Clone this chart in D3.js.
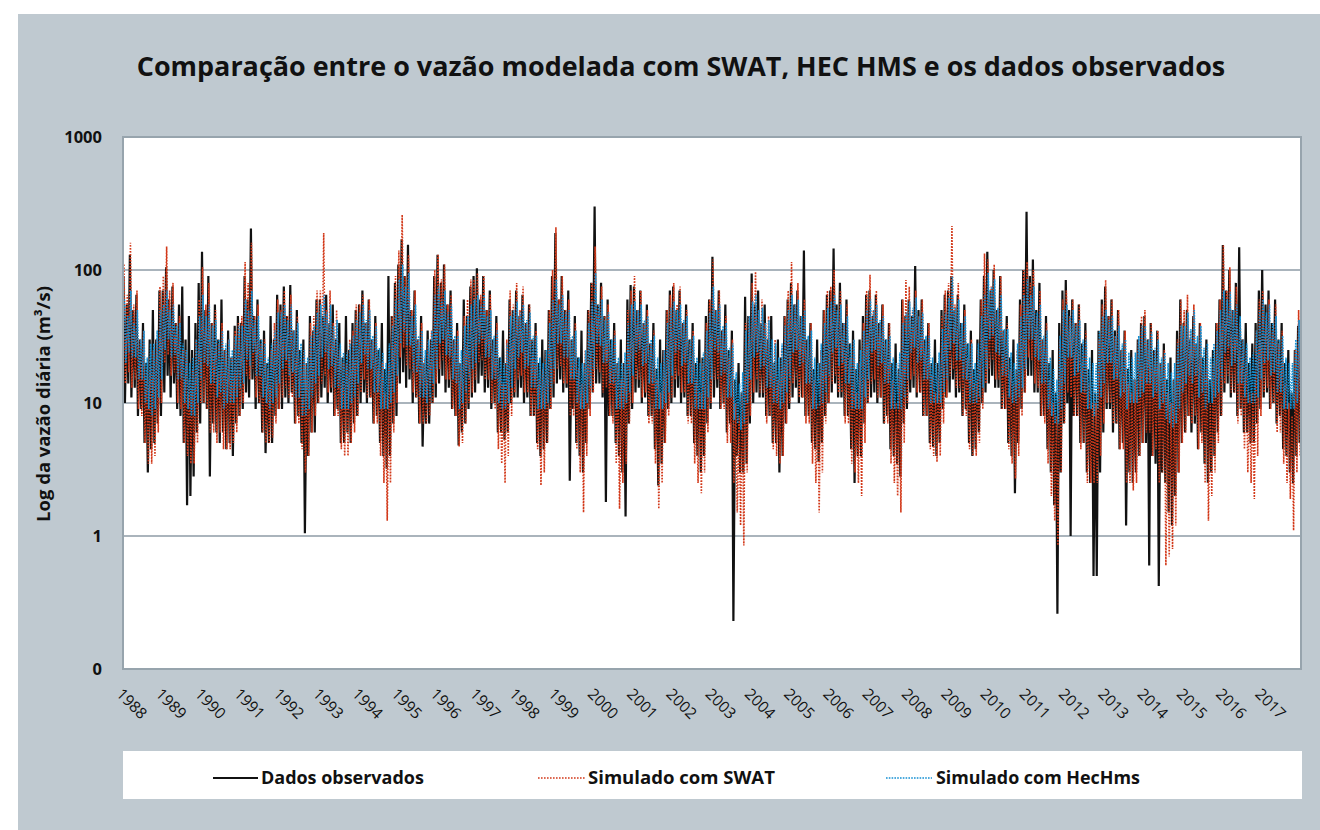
<!DOCTYPE html>
<html>
<head>
<meta charset="utf-8">
<script src="https://cdn.jsdelivr.net/npm/d3@7"></script>
<style>
  html, body { margin: 0; padding: 0; background: #fff; }
  svg { display: block; font-family: "Open Sans", "Noto Sans", sans-serif; }
</style>
</head>
<body>
<div id="chart"></div>
<script>
// DATA
const title = "Comparação entre o vazão modelada com SWAT, HEC HMS e os dados observados";
const yTitle = "Log da vazão diária (m³/s)";
const yearLabels = ["1988","1989","1990","1991","1992","1993","1994","1995","1996","1997",
  "1998","1999","2000","2001","2002","2003","2004","2005","2006","2007",
  "2008","2009","2010","2011","2012","2013","2014","2015","2016","2017"];
const yTicks = [0.1, 1, 10, 100, 1000];
const seriesNames = ["Dados observados", "Simulado com SWAT", "Simulado com HecHms"];

// monthly highs and lows of the daily flow (m3/s), one row per year, Jan..Dec
const obsHigh = [
  90,55,130,50,65,30,40,20,30,50,30,70,
  70,105,60,75,40,55,75,30,45,25,40,80,
  137,50,90,40,55,30,60,25,35,22,38,45,
  40,90,60,205,45,60,30,35,20,45,30,65,
  55,75,45,77,35,50,25,30,20,45,35,60,
  60,45,65,40,55,30,40,22,45,25,40,50,
  55,70,40,60,30,45,25,40,18,90,45,80,
  110,170,90,155,50,70,30,45,20,35,30,90,
  130,80,110,55,70,30,40,20,60,45,75,90,
  103,60,90,50,70,30,45,22,35,20,60,50,
  70,45,65,40,55,30,40,20,30,25,50,90,
  190,60,90,50,70,30,45,22,35,20,50,80,
  300,55,80,45,60,30,40,20,30,20,60,77,
  75,50,70,40,55,28,40,18,30,25,50,70,
  75,50,70,40,55,30,40,20,30,22,45,60,
  126,50,70,35,55,25,35,15,20,12,63,45,
  94,55,70,40,55,30,45,20,30,22,45,60,
  80,55,70,45,140,30,40,18,30,20,50,65,
  70,145,55,80,40,60,28,35,18,30,45,65,
  70,45,65,40,55,30,40,20,28,18,60,45,
  60,45,107,50,60,30,40,20,30,20,50,65,
  70,90,50,65,40,55,28,35,18,30,60,90,
  137,70,100,50,90,35,45,22,30,18,60,100,
  274,90,120,50,80,30,45,20,25,12,40,70,
  84,50,60,40,55,28,40,18,25,12,35,60,
  75,45,60,35,50,25,35,18,25,15,30,40,
  45,30,40,25,35,20,28,15,22,15,35,60,
  40,50,30,45,28,40,22,30,15,25,40,60,
  154,70,100,50,80,148,30,40,20,28,40,70,
  100,55,70,40,60,30,40,20,25,12,25,38
];
const obsLow = [
  10,14,11,13,8,9,5,3,4.5,5,7,8,
  12,16,11,14,9,8,5,1.7,2,2.8,6,7,
  10,9,2.8,7,6,5,6,4.5,5,4,7,8,
  9,12,11,15,9,10,6,4.2,5,5,8,9,
  9,11,10,12,7,8,5,1.05,4,6,6,10,
  11,13,10,12,8,9,5,5,6,5,7,8,
  10,12,10,11,7,8,5,4,3.2,4,7,8,
  14,17,13,15,10,11,7,4.7,7,7,10,11,
  14,16,12,13,9,8,4.8,6,7,9,11,12,
  14,16,12,13,9,10,6,6,5.3,6,10,11,
  11,13,10,11,8,8,5,4,4.5,5,9,11,
  14,15,12,13,2.6,9,5,4,3,5,9,12,
  14,14,11,1.8,8,8,5,4,3,1.4,7,9,
  12,13,10,11,8,8,4.5,2.4,3.5,5,9,10,
  11,13,10,11,8,8,5,4,3,4,7,9,
  11,13,9,10,6,7,0.23,4,3,3,3.5,7,
  10,12,11,11,8,8,5,5,3,4,7,9,
  11,13,10,11,8,8,5,4.5,3.6,5,8,10,
  12,14,11,11,8,8,4.5,2.5,4,4,7,10,
  11,12,10,11,7,8,4.5,4,3.5,2.8,7,9,
  12,13,11,12,8,8,5,4.7,4,5,9,11,
  12,15,11,12,8,9,5,4,4.5,6,10,12,
  14,16,13,13,9,9,5,4,2.1,5,9,12,
  16,16,12,12,8,8,4.5,3,1.7,0.26,3,7,
  10,1.0,8,8,5,5,3,2.5,0.5,0.5,3,6,
  9,9,6,7,4.5,5,1.2,3,2.5,3,4,5,
  5,0.6,4,3.5,0.42,3,2.5,1.5,1.2,2,3,5,
  6,8,6,7,4.5,6,3.5,2.5,3,4,6,8,
  12,14,11,12,8,9,6,6,5,5,7,9,
  11,12,9,10,7,8,4.5,4,3,2.5,4,5
];
const swatHigh = [
  110,65,160,55,70,30,35,18,22,25,30,75,
  90,150,70,80,40,45,25,25,15,18,30,60,
  105,55,80,40,50,28,40,25,30,22,35,40,
  45,115,80,160,45,55,28,30,18,25,40,60,
  50,70,45,65,35,45,22,25,20,40,45,70,
  70,190,50,70,40,50,25,20,20,30,35,55,
  55,65,40,60,30,40,22,20,12,20,45,90,
  140,260,90,130,50,70,30,40,22,30,35,100,
  130,85,110,55,65,30,35,20,45,60,85,85,
  95,65,90,50,65,30,40,18,14,30,70,55,
  80,50,75,40,55,30,35,15,18,25,50,100,
  210,60,90,50,60,30,40,18,14,25,50,80,
  150,55,75,45,55,28,35,20,15,20,50,70,
  90,50,70,40,50,28,35,15,12,25,50,65,
  80,55,75,40,50,28,35,15,12,20,40,60,
  120,50,70,35,45,22,30,10,8,12,40,45,
  80,97,50,60,40,45,25,30,15,25,45,70,
  115,55,80,45,60,30,40,15,10,25,50,70,
  75,100,50,70,40,55,22,30,12,20,40,70,
  92,50,70,40,55,28,40,15,10,20,60,84,
  75,50,70,45,60,30,40,16,12,20,45,70,
  80,214,55,80,40,50,22,30,14,25,60,133,
  120,75,110,50,90,35,40,18,14,25,55,100,
  115,80,100,45,70,30,40,15,10,8,30,60,
  70,45,60,40,55,28,35,14,10,10,30,55,
  84,45,60,32,50,25,35,14,12,15,30,45,
  50,30,40,25,35,20,25,12,10,15,30,60,
  50,65,35,55,28,40,18,25,10,20,40,60,
  154,70,105,50,75,40,30,25,12,12,35,60,
  70,45,60,35,55,28,35,14,10,8,25,50
];
const swatLow = [
  14,17,13,15,9,8,5,3.5,3.5,4,6,10,
  20,23,16,17,10,9,5,4,3.5,3.5,5,10,
  10,9,6,6,5,6,4.5,4.5,4.5,5,6,8,
  10,16,15,18,11,10,6,5,5,5.5,7,9,
  11,13,11,11,7,7,4.5,3,4,6,8,10,
  14,16,12,13,8,8,4.5,4,4,5,6,8,
  12,15,11,11,7,7,4,2.5,1.3,2.5,6,10,
  22,26,19,18,12,11,7,7,7,8,10,14,
  18,21,15,15,9,8,4.7,5,7,10,12,15,
  20,21,15,15,10,9,4.5,3.5,2.5,4,8,12,
  15,16,12,12,8,8,4.5,2.4,3,5,9,14,
  18,19,14,14,8,8,4.5,3,1.5,4,8,12,
  18,17,12,13,8,7,3.5,1.6,2.5,3.5,7,10,
  15,15,11,12,7,7,3.5,1.6,2.5,5,8,11,
  15,16,12,12,7,7,3.5,2.5,2.1,3,6,10,
  15,15,9,9,5,5,2.5,1.5,1.2,0.85,3,8,
  12,15,12,12,7,8,4.5,4,3.5,4,7,10,
  14,15,11,11,7,7,3.5,2.5,1.5,3,7,10,
  14,16,12,12,7,7,3.5,3,2.5,2,5,10,
  14,15,11,11,7,7,3.5,2.5,2,1.5,5,10,
  15,16,12,12,8,8,4.5,4,3.6,4,7,11,
  16,18,13,13,8,8,4.5,4,4,5,9,14,
  18,21,15,15,9,9,4.5,3.5,2.7,4,8,12,
  22,21,14,13,8,7,3.5,2,1.3,0.85,3,7,
  12,11,8,8,4.5,5,2.5,2.5,2.5,2.5,4,7,
  10,10,7,7,4.5,4.5,2.5,2.5,2.2,2.5,4,5,
  6,6,4,4.5,2.5,3,0.6,0.7,0.8,1.2,3,5,
  6,8,7,8,4.5,5,2.5,1.3,2,3,5,8,
  14,16,12,12,7,8,4.5,3,2.5,1.9,4,8,
  12,13,9,10,6,6,3.5,2.5,1.9,1.1,3,4
];
const hecHigh = [
  60,45,70,40,50,30,35,22,28,28,35,50,
  55,70,50,55,38,40,28,25,20,22,30,45,
  65,45,55,38,42,30,35,28,30,25,32,38,
  38,60,50,70,42,45,30,28,22,28,35,48,
  48,55,42,55,35,40,28,25,22,32,38,48,
  55,65,48,55,38,42,28,24,24,28,32,42,
  48,55,42,50,32,38,26,24,20,28,38,60,
  85,110,75,95,45,55,32,35,25,30,35,65,
  75,60,70,48,55,32,32,25,38,45,55,60,
  65,55,65,45,50,32,35,22,20,28,45,50,
  58,48,55,42,48,32,32,22,20,25,40,60,
  85,55,65,48,50,32,35,22,20,25,40,58,
  95,55,60,42,48,30,32,22,20,24,40,55,
  58,50,55,42,45,30,32,22,20,25,40,52,
  58,50,55,42,45,30,32,22,20,24,35,48,
  75,50,55,38,40,26,28,17,14,17,35,45,
  58,65,50,52,40,42,30,28,22,28,38,50,
  65,55,60,45,50,32,35,22,20,28,40,52,
  58,65,50,55,40,45,28,30,20,25,35,50,
  60,50,55,42,45,30,32,22,20,24,40,48,
  58,52,62,45,48,32,32,22,20,24,36,48,
  62,90,52,60,40,45,28,28,20,28,45,65,
  95,75,85,52,65,36,36,24,20,28,45,65,
  85,65,75,48,55,32,35,22,18,15,32,50,
  55,45,50,38,42,30,30,22,20,20,35,45,
  50,42,45,32,38,28,30,24,22,24,32,38,
  38,30,34,26,30,22,24,20,17,20,28,38,
  38,48,36,50,32,38,26,28,22,28,35,50,
  70,60,68,50,55,45,30,28,22,24,35,50,
  60,48,55,40,45,30,32,22,20,20,30,42
];
const hecLow = [
  20,24,22,22,15,15,10,9,8,9,11,15,
  25,30,22,23,15,15,10,9,8,8,10,15,
  20,19,14,14,11,12,9,10,10,10,11,13,
  14,21,19,24,16,16,11,10,9,10,11,14,
  18,21,16,17,11,11,8,8,9,11,14,16,
  22,24,18,19,13,13,9,9,9,10,11,14,
  20,23,18,18,12,12,9,9,9,10,12,16,
  28,34,27,27,17,17,11,11,10,11,14,18,
  28,30,23,22,15,14,9,10,12,15,18,20,
  28,30,22,22,15,15,10,9,9,10,13,18,
  22,24,18,19,13,13,9,9,9,10,13,18,
  28,28,22,22,15,15,10,9,9,10,13,18,
  28,27,20,20,14,14,9,9,9,10,12,16,
  24,25,19,20,14,14,9,9,9,10,12,16,
  24,25,19,20,14,14,9,9,9,9,11,15,
  25,24,16,17,11,11,7.5,7,6.3,7,10,15,
  22,24,18,19,13,13,10,10,9,10,12,15,
  24,25,19,20,14,14,9,9,9.5,10,12,16,
  24,26,19,20,14,14,9,9,9,9,11,15,
  24,25,19,20,14,14,9,9,9,9,11,15,
  24,26,20,21,15,15,10,10,10,10,12,15,
  25,28,21,21,15,15,10,10,10,11,13,18,
  30,32,24,23,16,16,11,10,10,11,13,18,
  30,30,22,21,14,14,9,8,7,7,9,14,
  22,22,16,17,12,12,9,9,8,9,11,14,
  20,20,15,15,11,12,9,10,10,10,11,12,
  14,14,11,12,9,10,7.5,7,6.5,7,9,12,
  14,16,14,16,11,12,9,10,10,11,12,15,
  24,26,19,20,14,14,11,10,10,10,11,15,
  20,21,16,17,12,12,9,9,9,9,10,12
];

// LAYOUT
const W = 1320, H = 830;
const plot = { left: 123, right: 1301, top: 137, bottom: 669 };

const svg = d3.select("#chart").append("svg")
  .attr("width", W)
  .attr("height", H);

svg.append("rect").attr("width", W).attr("height", H).attr("fill", "#ffffff");
svg.append("rect")
  .attr("x", 18).attr("y", 14)
  .attr("width", W - 18).attr("height", H - 14)
  .attr("fill", "#bfc9d0");

// fit a text element's font size so its length matches a width
function fitText(sel, width) {
  const fs = parseFloat(sel.attr("font-size"));
  const len = sel.node().getComputedTextLength();
  sel.attr("font-size", (fs * width / len).toFixed(2));
}

// title
const t = svg.append("text")
  .attr("x", 681).attr("y", 76)
  .attr("text-anchor", "middle")
  .attr("font-size", 24).attr("font-weight", 700)
  .attr("fill", "#111")
  .text(title);
fitText(t, 1089);

// scales
const x = d3.scaleTime()
  .domain([new Date(1988, 0, 1), new Date(2018, 0, 1)])
  .range([plot.left, plot.right]);
const y = d3.scaleLog()
  .domain([0.1, 1000])
  .range([plot.bottom, plot.top]);

// plot background
svg.append("rect")
  .attr("x", plot.left).attr("y", plot.top)
  .attr("width", plot.right - plot.left).attr("height", plot.bottom - plot.top)
  .attr("fill", "#fff");

// grid
svg.append("g").selectAll("line")
  .data([1, 10, 100])
  .join("line")
    .attr("x1", plot.left).attr("x2", plot.right)
    .attr("y1", d => y(d)).attr("y2", d => y(d))
    .attr("stroke", "#8e9ba6").attr("stroke-width", 1.3);

// series points: each month gives its high then its low (days differ per series)
function buildSeries(hi, lo, dHi, dLo) {
  const pts = [];
  hi.forEach((h, i) => {
    const yr = +yearLabels[Math.floor(i / 12)], m = i % 12;
    pts.push({ date: new Date(yr, m, dHi), value: h });
    pts.push({ date: new Date(yr, m, dLo), value: lo[i] });
  });
  return pts;
}

const line = d3.line()
  .x(d => x(d.date))
  .y(d => y(d.value));

svg.append("clipPath").attr("id", "clip")
  .append("rect")
  .attr("x", plot.left).attr("y", plot.top)
  .attr("width", plot.right - plot.left).attr("height", plot.bottom - plot.top);

const series = [
  { name: seriesNames[0], data: buildSeries(obsHigh, obsLow, 5, 19), color: "#111111", width: 2.2, dash: null },
  { name: seriesNames[1], data: buildSeries(swatHigh, swatLow, 10, 24), color: "#d2391a", width: 1.6, dash: "1.6 1.4" },
  { name: seriesNames[2], data: buildSeries(hecHigh, hecLow, 14, 28), color: "#1590d3", width: 1.6, dash: "1.6 1.2" }
];

const lines = svg.append("g").attr("clip-path", "url(#clip)");
series.forEach(s => {
  lines.append("path")
    .datum(s.data)
    .attr("fill", "none")
    .attr("stroke", s.color)
    .attr("stroke-width", s.width)
    .attr("stroke-dasharray", s.dash)
    .attr("d", line);
});

// frame
svg.append("rect")
  .attr("x", plot.left).attr("y", plot.top)
  .attr("width", plot.right - plot.left).attr("height", plot.bottom - plot.top)
  .attr("fill", "none")
  .attr("stroke", "#97a4ad").attr("stroke-width", 2);

// y axis
const yAxis = svg.append("g")
  .attr("transform", `translate(${plot.left - 18},0)`)
  .call(d3.axisLeft(y).tickValues(yTicks).tickSize(0)
    .tickFormat(d => d < 1 ? "0" : d3.format("d")(d)));
yAxis.select(".domain").remove();
yAxis.selectAll("text")
  .attr("font-family", "Open Sans, sans-serif")
  .attr("font-size", 16.5).attr("font-weight", 700)
  .attr("fill", "#111").attr("dy", "0.36em");

const yt = svg.append("text")
  .attr("transform", "translate(50,404) rotate(-90)")
  .attr("text-anchor", "middle")
  .attr("font-size", 15).attr("font-weight", 700)
  .attr("fill", "#111")
  .text(yTitle);
fitText(yt, 236);

// x axis
const xAxis = svg.append("g")
  .attr("transform", `translate(0,${plot.bottom})`)
  .call(d3.axisBottom(x)
    .tickValues(yearLabels.map(d => new Date(+d, 0, 1)))
    .tickSize(0)
    .tickFormat(d3.timeFormat("%Y")));
xAxis.select(".domain").remove();
xAxis.selectAll("text")
  .attr("font-family", "Open Sans, sans-serif")
  .attr("font-size", 15.5).attr("fill", "#111")
  .attr("x", 0).attr("y", 0).attr("dy", 0)
  .attr("text-anchor", "start")
  .attr("transform", "translate(-8,26) rotate(45)");

// legend
const legend = svg.append("g");
legend.append("rect")
  .attr("x", 123).attr("y", 751)
  .attr("width", 1179).attr("height", 48)
  .attr("fill", "#fff");

const legendPos = [
  { x1: 213, x2: 258, tx: 261, tw: 163 },
  { x1: 538, x2: 585, tx: 588, tw: 187 },
  { x1: 886, x2: 932, tx: 936, tw: 204 }
];
series.forEach((s, i) => {
  const p = legendPos[i];
  legend.append("line")
    .attr("x1", p.x1).attr("x2", p.x2)
    .attr("y1", 778).attr("y2", 778)
    .attr("stroke", s.color)
    .attr("stroke-width", s.dash ? 1.6 : 2)
    .attr("stroke-dasharray", s.dash);
  const lt = legend.append("text")
    .attr("x", p.tx).attr("y", 784)
    .attr("font-size", 16).attr("font-weight", 700)
    .attr("fill", "#111")
    .text(s.name);
  fitText(lt, p.tw);
});
</script>
</body>
</html>
